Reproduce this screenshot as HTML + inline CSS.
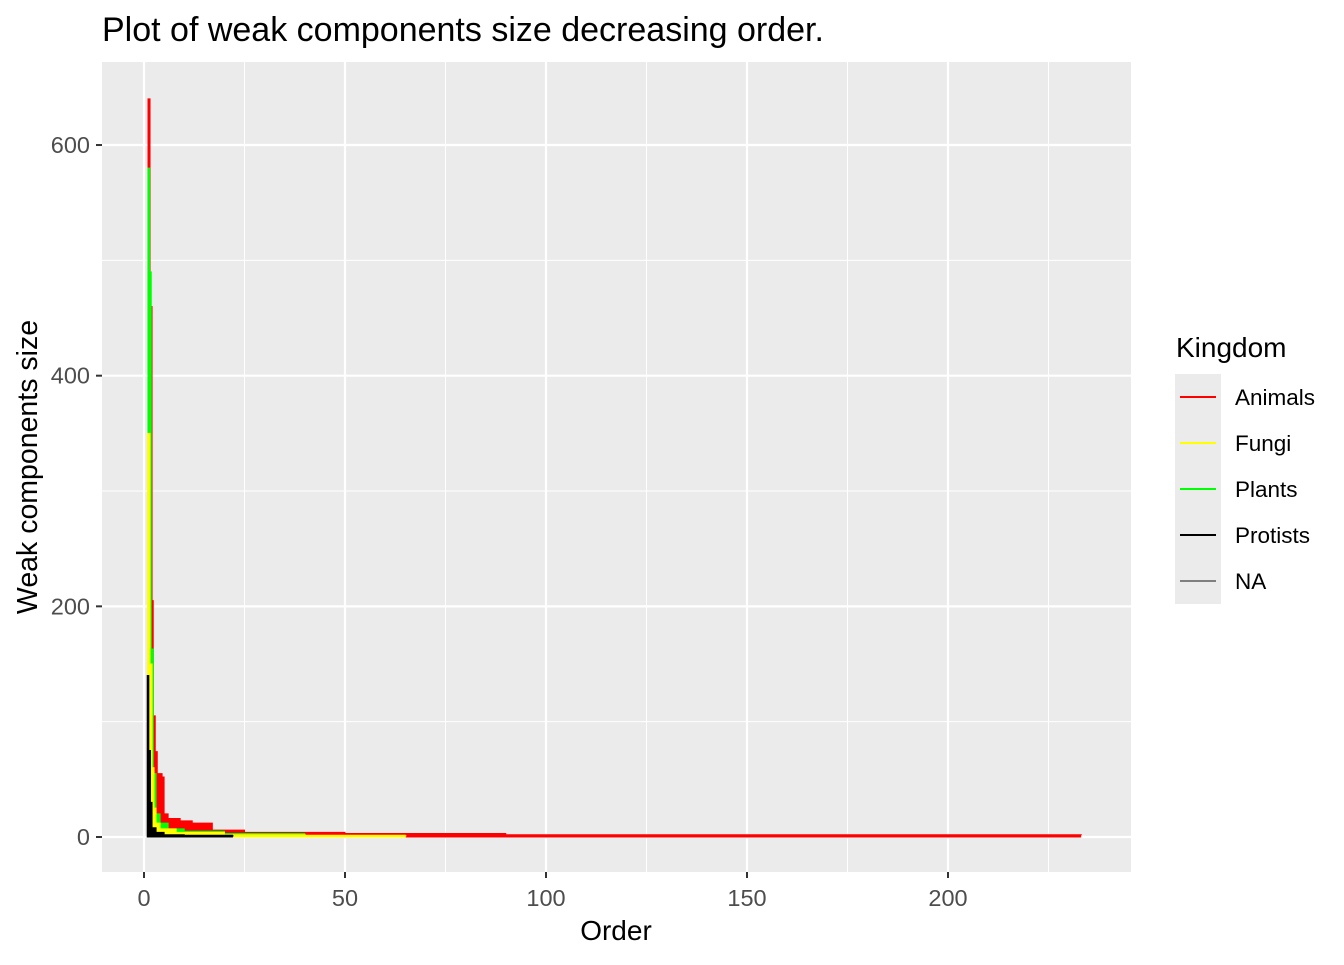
<!DOCTYPE html>
<html><head><meta charset="utf-8"><style>
body{margin:0;background:#fff;}
svg text{font-family:"Liberation Sans",Arial,sans-serif;}
</style></head><body>
<svg width="1344" height="960" xmlns="http://www.w3.org/2000/svg">
<text x="102" y="41" font-size="34" fill="#000">Plot of weak components size decreasing order.</text>
<rect x="102" y="62" width="1029" height="810" fill="#ebebeb"/>
<g id="grid"></g>
<g id="series"></g>
<g id="axes"></g>
<text x="616" y="940" font-size="28" text-anchor="middle">Order</text>
<text transform="translate(37,467) rotate(-90)" font-size="28.5" text-anchor="middle">Weak components size</text>
<g>
<text x="1176" y="357" font-size="28">Kingdom</text>
<g id="legend"></g>
</g>
</svg>
<script>
const xTicks=[0,50,100,150,200];
const yTicks=[0,200,400,600];
const kingdoms=["Animals","Fungi","Plants","Protists","NA"];
const kColors=["#ff0000","#ffff00","#00ff00","#000000","#7f7f7f"];
const animalsX=[1,1.5,2,2.3,2.8,3.3,4.5,5,6,9,12,17,25,50,90,233];
const animalsY=[640,460,205,105,74,55,52,20,16,14,12,6,4,3,2,2];
const plantsX=[1,1.4,1.8,2.3,3,4,6,10,20,40];
const plantsY=[580,490,163,55,20,12,7,5,3,2];
const fungiX=[0.9,1.5,2,2.5,3,4,8,20,40,65];
const fungiY=[350,150,60,25,12,7,4,2,1.5,1];
const protistsX=[0.8,1.2,1.6,2,3,5,10,22];
const protistsY=[140,75,30,8,4,2,1.5,1];
const drawOrder=[[animalsX,animalsY,"#ff0000","series-animals"],[plantsX,plantsY,"#00ff00","series-plants"],[fungiX,fungiY,"#ffff00","series-fungi"],[protistsX,protistsY,"#000000","series-protists"]];
const NS="http://www.w3.org/2000/svg";
const sx=v=>144+v*4.02;
const sy=v=>837-v*1.1533;
function mk(tag,attrs,parent){const e=document.createElementNS(NS,tag);for(const k in attrs)e.setAttribute(k,attrs[k]);parent.appendChild(e);return e;}
const grid=document.getElementById('grid');
[25,75,125,175,225].forEach(v=>{const l=mk('line',{x1:sx(v),x2:sx(v),y1:62,y2:872,stroke:'#fff','stroke-width':1},grid);});
[100,300,500].forEach(v=>{const l=mk('line',{x1:102,x2:1131,y1:sy(v),y2:sy(v),stroke:'#fff','stroke-width':1},grid);});
xTicks.forEach(v=>{const l=mk('line',{x1:sx(v),x2:sx(v),y1:62,y2:872,stroke:'#fff','stroke-width':2.2},grid);});
yTicks.forEach(v=>{const l=mk('line',{x1:102,x2:1131,y1:sy(v),y2:sy(v),stroke:'#fff','stroke-width':2.2},grid);});
const ser=document.getElementById('series');
drawOrder.forEach(([xs,ys,c,name])=>{
  let d=`M${sx(xs[0])},${sy(0)}`;
  for(let i=0;i<xs.length;i++){const xe=i+1<xs.length?xs[i+1]:xs[i]+0.3;d+=` L${sx(xs[i])},${sy(ys[i])} L${sx(xe)},${sy(ys[i])}`;}
  d+=` L${sx(xs[xs.length-1])},${sy(ys[ys.length-1])} L${sx(xs[xs.length-1])},${sy(0)} Z`;
  const p=mk('path',{d:d,fill:c,stroke:c,'stroke-width':1},ser);
  
  
});
const ax=document.getElementById('axes');
xTicks.forEach(v=>{mk('line',{x1:sx(v),x2:sx(v),y1:872,y2:878,stroke:'#333','stroke-width':2},ax);const t=mk('text',{x:sx(v),y:906,'font-size':23.5,'text-anchor':'middle',fill:'#4d4d4d'},ax);t.textContent=v;});
yTicks.forEach(v=>{mk('line',{x1:96,x2:102,y1:sy(v),y2:sy(v),stroke:'#333','stroke-width':2},ax);const t=mk('text',{x:90,y:sy(v)+8,'font-size':23.5,'text-anchor':'end',fill:'#4d4d4d'},ax);t.textContent=v;});
const lg=document.getElementById('legend');
mk('rect',{x:1175,y:374,width:46,height:230,fill:'#ebebeb'},lg);
kingdoms.forEach((k,i)=>{const y=397+i*46;const l=mk('line',{x1:1180,x2:1216,y1:y,y2:y,stroke:kColors[i],'stroke-width':2},lg);const t=mk('text',{x:1235,y:y+8,'font-size':22.5},lg);t.textContent=k;});
</script>
</body></html>
